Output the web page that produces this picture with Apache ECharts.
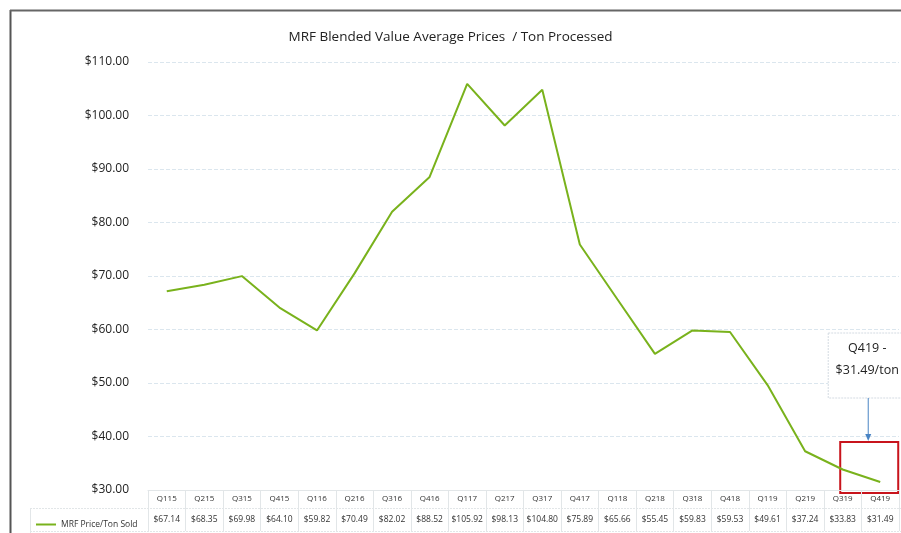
<!DOCTYPE html>
<html>
<head>
<meta charset="utf-8">
<script src="https://cdn.jsdelivr.net/npm/echarts@6/dist/echarts.min.js"></script>
<style>
  html, body { margin: 0; padding: 0; background: #fff; }
  #chart { width: 901px; height: 533px; }
</style>
</head>
<body>
<div id="chart"></div>
<script>
// Quarterly MRF blended value, dollars per ton
const categories = ['Q115','Q215','Q315','Q415','Q116','Q216','Q316','Q416','Q117','Q217','Q317','Q417','Q118','Q218','Q318','Q418','Q119','Q219','Q319','Q419'];
const prices = [67.14, 68.35, 69.98, 64.10, 59.82, 70.49, 82.02, 88.52, 105.92, 98.13, 104.80, 75.89, 65.66, 55.45, 59.83, 59.53, 49.61, 37.24, 33.83, 31.49];
const seriesName = 'MRF Price/Ton Sold';
const chartTitle = 'MRF Blended Value Average Prices  / Ton Processed';
const yMin = 30, yMax = 110, yStep = 10;

const FONT = '"Open Sans", "Noto Sans", sans-serif';
const GREEN = '#79b21c';
const GRID_LINE = '#dbe6ee';
const TABLE_LINE = '#e2e6e8';

const money = v => '$' + v.toFixed(2);

const chart = echarts.init(document.getElementById('chart'), null, { renderer: 'canvas' });

chart.setOption({
  animation: false,
  backgroundColor: '#fff',
  title: {
    text: chartTitle,
    left: 'center',
    top: 25,
    textStyle: { fontFamily: FONT, fontSize: 13.5, fontWeight: 'normal', color: '#222' }
  },
  legend: {
    data: [seriesName],
    left: 31,
    top: 515,
    icon: 'rect',
    itemWidth: 20,
    itemHeight: 2,
    itemGap: 5,
    textStyle: { fontFamily: FONT, fontSize: 8.5, color: '#333' }
  },
  grid: { left: 148, right: 2, top: 62, bottom: 43 },
  xAxis: [
    {
      type: 'category',
      data: categories,
      boundaryGap: true,
      axisLine: { show: true, lineStyle: { color: TABLE_LINE, width: 1 } },
      axisTick: { show: true, length: 41, lineStyle: { color: TABLE_LINE } },
      axisLabel: { margin: 5, fontFamily: FONT, fontSize: 8, color: '#333', interval: 0 }
    },
    {
      type: 'category',
      data: prices.map(money),
      position: 'bottom',
      boundaryGap: true,
      axisLine: { show: false },
      axisTick: { show: false },
      axisLabel: { margin: 25, fontFamily: FONT, fontSize: 8.5, color: '#333', interval: 0 }
    }
  ],
  yAxis: {
    type: 'value',
    min: yMin,
    max: yMax,
    interval: yStep,
    axisLine: { show: false },
    axisTick: { show: false },
    axisLabel: {
      formatter: money,
      margin: 19,
      fontFamily: FONT,
      fontSize: 12,
      color: '#222'
    },
    splitLine: { show: true, lineStyle: { color: GRID_LINE, type: 'dashed', width: 1 } }
  },
  series: [{
    name: seriesName,
    type: 'line',
    xAxisIndex: 0,
    data: prices,
    symbol: 'none',
    lineStyle: { color: GREEN, width: 2 },
    itemStyle: { color: GREEN }
  }]
});

// Annotation on the latest quarter: callout text, arrow and highlight box
const lastIdx = prices.length - 1;
const [px, py] = chart.convertToPixel({ xAxisIndex: 0, yAxisIndex: 0 }, [lastIdx, prices[lastIdx]]);
const arrowX = px - 12;

chart.setOption({
  graphic: [
    // page frame: outer left edge and top rule
    { type: 'line', shape: { x1: 10.5, y1: 10, x2: 10.5, y2: 533 }, style: { stroke: '#555', lineWidth: 2 }, silent: true },
    { type: 'line', shape: { x1: 10, y1: 10.5, x2: 901, y2: 10.5 }, style: { stroke: '#666', lineWidth: 2 }, silent: true },
    // data table row rules
    { type: 'line', shape: { x1: 30, y1: 508.5, x2: 901, y2: 508.5 }, style: { stroke: TABLE_LINE, lineWidth: 1, lineDash: [2, 1] }, silent: true },
    { type: 'line', shape: { x1: 30, y1: 531.5, x2: 901, y2: 531.5 }, style: { stroke: TABLE_LINE, lineWidth: 1, lineDash: [2, 1] }, silent: true },
    { type: 'line', shape: { x1: 30.5, y1: 508, x2: 30.5, y2: 533 }, style: { stroke: TABLE_LINE, lineWidth: 1 }, silent: true },
    // callout box
    {
      type: 'rect',
      shape: { x: px - 52, y: 333, width: 80, height: 65 },
      style: { fill: '#fff', stroke: '#d4dbe2', lineWidth: 1, lineDash: [2, 1] },
      silent: true
    },
    {
      type: 'text',
      x: arrowX - 1, y: 348,
      style: {
        text: categories[lastIdx] + ' -',
        fontFamily: FONT, fontSize: 12.5, fill: '#222',
        align: 'center', verticalAlign: 'middle'
      },
      silent: true
    },
    {
      type: 'text',
      x: arrowX - 1, y: 370,
      style: {
        text: money(prices[lastIdx]) + '/ton',
        fontFamily: FONT, fontSize: 12.5, fill: '#222',
        align: 'center', verticalAlign: 'middle'
      },
      silent: true
    },
    // arrow down to the highlighted point
    { type: 'line', shape: { x1: arrowX, y1: 398, x2: arrowX, y2: 436 }, style: { stroke: '#4a84c4', lineWidth: 1 }, silent: true },
    {
      type: 'polygon',
      shape: { points: [[arrowX - 3, 434], [arrowX + 3, 434], [arrowX, 441]] },
      style: { fill: '#4a84c4' },
      silent: true
    },
    // red highlight box around the last segment
    {
      type: 'rect',
      shape: { x: px - 40, y: py - 40, width: 58, height: 51 },
      style: { fill: 'none', stroke: '#c8141c', lineWidth: 2 },
      silent: true
    }
  ]
});
</script>
</body>
</html>
